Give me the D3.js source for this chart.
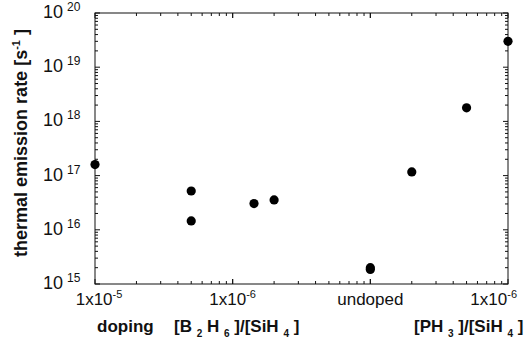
<!doctype html>
<html>
  <head>
    <script src="https://d3js.org/d3.v7.min.js"></script>
    <style>body { margin: 0; background: #fff; }</style>
  </head>
  <body>
    <script>
    // one entry per sample: doping gas, gas ratio, thermal emission rate
    var dopant = ["B2H6", "B2H6", "B2H6", "B2H6", "B2H6", "none", "none", "PH3", "PH3", "PH3"];
    var ratio  = [1e-5, 2e-6, 2e-6, 7e-7, 5e-7, 0, 0, 2e-7, 5e-7, 1e-6];
    var rate   = [1.6e17, 5.2e16, 1.46e16, 3.05e16, 3.56e16, 2.0e15, 1.85e15, 1.17e17, 1.78e18, 3.0e19];

    // x tick labels
    var xTickDopant = ["B2H6", "B2H6", "none", "PH3"];
    var xTickRatio  = [1e-5, 1e-6, 0, 1e-6];
    var xTickBase   = ["1x10", "1x10", "undoped", "1x10"];
    var xTickExp    = ["-5", "-6", "", "-6"];

    // y tick labels
    var yTicks    = [1e15, 1e16, 1e17, 1e18, 1e19, 1e20];
    var yTickExp  = ["15", "16", "17", "18", "19", "20"];

    var width = 526;
    var height = 344;
    var margin = {top: 13, right: 18, bottom: 60, left: 95};
    var pLeft = margin.left, pRight = width - margin.right;
    var pTop = margin.top, pBottom = height - margin.bottom;

    var svg = d3.select("body")
              .append("svg")
              .attr("width", width)
              .attr("height", height)
              .style("font-family", "'Liberation Sans', Arial, sans-serif");

    // x is three equal segments: B2H6 1e-5 -> 1e-7 (undoped), then PH3 1e-7 -> 1e-6
    var seg = (pRight - pLeft) / 3;
    var xB = d3.scaleLog().domain([1e-5, 1e-7]).range([pLeft, pLeft + 2 * seg]);
    var xP = d3.scaleLog().domain([1e-7, 1e-6]).range([pLeft + 2 * seg, pRight]);
    function xPos(dop, r) {
      if (dop == "B2H6") return xB(r);
      if (dop == "PH3") return xP(r);
      return xP(1e-7);
    }

    var yScale = d3.scaleLog().domain([1e15, 1e20]).range([pBottom, pTop]);

    var ink = "#111";

    // frame
    svg.append("rect")
      .attr("x", pLeft).attr("y", pTop)
      .attr("width", pRight - pLeft).attr("height", pBottom - pTop)
      .attr("fill", "none").attr("stroke", ink).attr("stroke-width", 1);

    // x minor/major ticks, log spacing in each segment (top and bottom, inward)
    var xTicks = [];
    for (var s = 0; s < 3; s++) {
      var sc = d3.scaleLog().domain([1, 10]).range([pLeft + s * seg, pLeft + (s + 1) * seg]);
      sc.ticks().forEach(function(k) {
        xTicks.push({x: sc(k), major: (k == 1 || k == 10)});
      });
    }
    svg.append("g").selectAll("line")
      .data(xTicks).enter().append("line")
      .attr("x1", function(d) { return d.x; })
      .attr("x2", function(d) { return d.x; })
      .attr("y1", pBottom)
      .attr("y2", function(d) { return pBottom - (d.major ? 5 : 3); })
      .attr("stroke", ink);
    svg.append("g").selectAll("line")
      .data(xTicks).enter().append("line")
      .attr("x1", function(d) { return d.x; })
      .attr("x2", function(d) { return d.x; })
      .attr("y1", pTop)
      .attr("y2", function(d) { return pTop + (d.major ? 5 : 3); })
      .attr("stroke", ink);

    // y ticks, left and right, inward
    var yAll = yScale.ticks();
    function isMajor(t) { return Math.abs(Math.log10(t) - Math.round(Math.log10(t))) < 1e-6; }
    svg.append("g").selectAll("line")
      .data(yAll).enter().append("line")
      .attr("x1", pLeft)
      .attr("x2", function(d) { return pLeft + (isMajor(d) ? 5 : 3); })
      .attr("y1", function(d) { return yScale(d); })
      .attr("y2", function(d) { return yScale(d); })
      .attr("stroke", ink);
    svg.append("g").selectAll("line")
      .data(yAll).enter().append("line")
      .attr("x1", pRight)
      .attr("x2", function(d) { return pRight - (isMajor(d) ? 5 : 3); })
      .attr("y1", function(d) { return yScale(d); })
      .attr("y2", function(d) { return yScale(d); })
      .attr("stroke", ink);

    // y tick labels
    svg.append("g").selectAll("text")
      .data(yTicks).enter().append("text")
      .attr("fill", ink)
      .attr("x", 63)
      .attr("y", function(d) { return yScale(d) + 5; })
      .attr("text-anchor", "end")
      .style("font-size", "18px")
      .text("10");
    svg.append("g").selectAll("text")
      .data(yTicks).enter().append("text")
      .attr("fill", ink)
      .attr("x", 67)
      .attr("y", function(d) { return yScale(d) - 2; })
      .style("font-size", "12px")
      .text(function(d, i) { return yTickExp[i]; });

    // x tick labels
    var xl = svg.append("g").selectAll("text")
      .data(xTickBase).enter().append("text")
      .attr("fill", ink)
      .attr("x", function(d, i) {
        var p = xPos(xTickDopant[i], xTickRatio[i]);
        if (i == 3) return p + 9;
        return i == 0 ? p + 4 : p;
      })
      .attr("y", 305)
      .attr("text-anchor", function(d, i) { return i == 3 ? "end" : "middle"; })
      .style("font-size", "17px");
    xl.append("tspan").text(function(d) { return d; });
    xl.append("tspan")
      .attr("dy", -7)
      .style("font-size", "11px")
      .text(function(d, i) { return xTickExp[i]; });

    // data points
    svg.append("g").selectAll("circle")
      .data(rate).enter().append("circle")
      .attr("cx", function(d, i) { return xPos(dopant[i], ratio[i]); })
      .attr("cy", function(d) { return yScale(d); })
      .attr("r", 4.6)
      .attr("fill", "#000");

    // axis titles
    function chem(sel, parts) {
      parts.forEach(function(p) {
        var t = sel.append("tspan").text(p[0]);
        if (p[1] == "sub") t.attr("dy", 5).style("font-size", "10px");
        if (p[1] == "back") t.attr("dy", -5);
      });
    }
    svg.append("text")
      .attr("x", 97).attr("y", 332)
      .attr("font-weight", "bold")
      .style("font-size", "17px")
      .attr("fill", ink)
      .text("doping");
    chem(svg.append("text")
      .attr("x", 174).attr("y", 332)
      .attr("font-weight", "bold")
      .style("font-size", "17px")
      .attr("fill", ink),
      [["[B ", ""], ["2", "sub"], [" H ", "back"], ["6", "sub"], [" ]/[SiH ", "back"], ["4", "sub"], [" ]", "back"]]);
    chem(svg.append("text")
      .attr("x", 414).attr("y", 332)
      .attr("font-weight", "bold")
      .style("font-size", "17px")
      .attr("fill", ink),
      [["[PH ", ""], ["3", "sub"], [" ]/[SiH ", "back"], ["4", "sub"], [" ]", "back"]]);

    var yt = svg.append("text")
      .attr("transform", "translate(27,143) rotate(-90)")
      .attr("text-anchor", "middle")
      .attr("font-weight", "bold")
      .style("font-size", "18px")
      .attr("fill", ink);
    yt.append("tspan").text("thermal emission rate [s");
    yt.append("tspan").attr("dy", -7).style("font-size", "11px").text("-1");
    yt.append("tspan").attr("dy", 7).text(" ]");
    </script>
  </body>
</html>
